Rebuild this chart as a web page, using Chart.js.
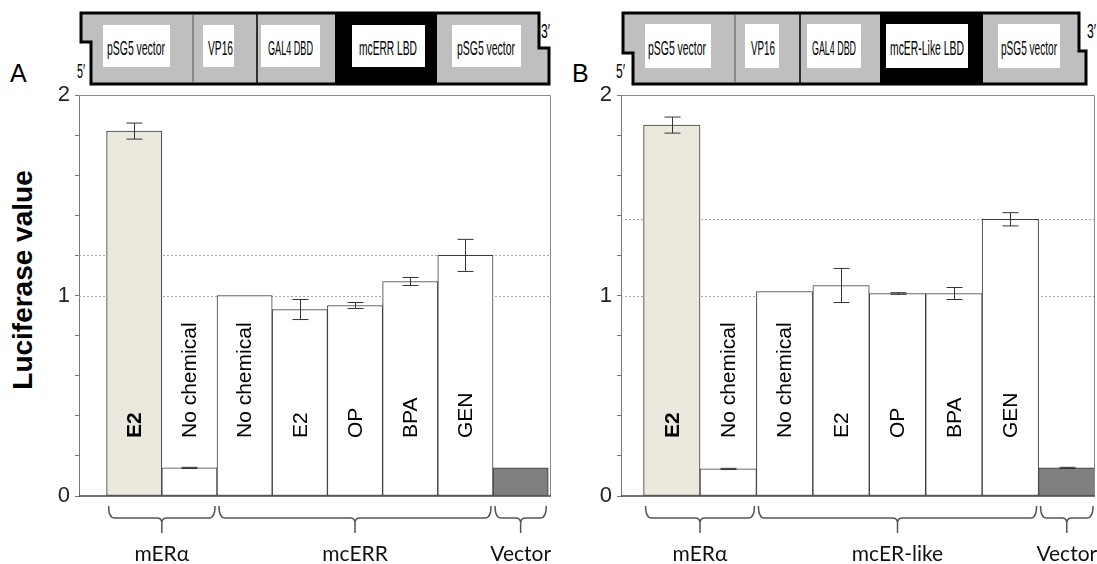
<!DOCTYPE html>
<html><head><meta charset="utf-8">
<script src="https://cdn.jsdelivr.net/npm/chart.js@4.4.1/dist/chart.umd.min.js"></script>
<style>
html,body{margin:0;padding:0;background:#fff;width:1097px;height:564px;overflow:hidden;}
#wrap{position:relative;width:1097px;height:564px;}
canvas{position:absolute;top:0;}
#cA{left:0}
#cB{left:560px}
svg{position:absolute;left:0;top:0;}
.ytitle{position:absolute;font:bold 28px "Liberation Sans",Arial,sans-serif;left:23px;top:280px;transform:translate(-50%,-50%) rotate(-90deg);white-space:nowrap;color:#000;}
</style></head>
<body><div id="wrap">
<svg width="1097" height="100" font-family="Liberation Sans, Arial, sans-serif">
  <text x="10" y="82" font-size="25">A</text>
  <text x="572" y="82" font-size="25">B</text>
  <!-- construct A -->
  <polygon points="81,13 539,13 539,48 549,48 549,84 91,84 91,42 81,42" fill="#bfbfbf" stroke="#000" stroke-width="3"/>
  <rect x="335" y="13" width="102" height="71" fill="#000"/>
  <line x1="193" y1="14" x2="193" y2="83" stroke="#555" stroke-width="1"/>
  <line x1="257" y1="14" x2="257" y2="83" stroke="#000" stroke-width="1.5"/>
  <rect x="103" y="25" width="67" height="42" fill="#fff"/>
  <rect x="203" y="25" width="31" height="42" fill="#fff"/>
  <rect x="261" y="25" width="59" height="42" fill="#fff"/>
  <rect x="352" y="25" width="73" height="42" fill="#fff"/>
  <rect x="452" y="25" width="69" height="42" fill="#fff"/>
  <text x="107" y="55" font-size="21" textLength="58" lengthAdjust="spacingAndGlyphs">pSG5 vector</text>
  <text x="208" y="55" font-size="21" textLength="25" lengthAdjust="spacingAndGlyphs">VP16</text>
  <text x="268" y="55" font-size="21" textLength="45" lengthAdjust="spacingAndGlyphs">GAL4 DBD</text>
  <text x="359" y="55" font-size="21" textLength="58" lengthAdjust="spacingAndGlyphs">mcERR LBD</text>
  <text x="457" y="55" font-size="21" textLength="58" lengthAdjust="spacingAndGlyphs">pSG5 vector</text>
  <text x="77" y="78" font-size="20" textLength="8" lengthAdjust="spacingAndGlyphs">5′</text>
  <text x="541" y="38" font-size="20" textLength="9" lengthAdjust="spacingAndGlyphs">3′</text>
  <!-- construct B -->
  <polygon points="623,13 1079,13 1079,51 1086,51 1086,84 633,84 633,53 623,53" fill="#bfbfbf" stroke="#000" stroke-width="3"/>
  <rect x="880" y="13" width="103" height="71" fill="#000"/>
  <line x1="735" y1="14" x2="735" y2="83" stroke="#555" stroke-width="1"/>
  <line x1="800" y1="14" x2="800" y2="83" stroke="#000" stroke-width="1.5"/>
  <rect x="645" y="24" width="66" height="44" fill="#fff"/>
  <rect x="745" y="24" width="34" height="44" fill="#fff"/>
  <rect x="807" y="24" width="54" height="44" fill="#fff"/>
  <rect x="886" y="24" width="82" height="44" fill="#fff"/>
  <rect x="998" y="24" width="62" height="44" fill="#fff"/>
  <text x="648" y="55" font-size="21" textLength="58" lengthAdjust="spacingAndGlyphs">pSG5 vector</text>
  <text x="751" y="55" font-size="21" textLength="24" lengthAdjust="spacingAndGlyphs">VP16</text>
  <text x="812" y="55" font-size="21" textLength="44" lengthAdjust="spacingAndGlyphs">GAL4 DBD</text>
  <text x="890" y="55" font-size="21" textLength="74" lengthAdjust="spacingAndGlyphs">mcER-Like LBD</text>
  <text x="1001" y="55" font-size="21" textLength="56" lengthAdjust="spacingAndGlyphs">pSG5 vector</text>
  <text x="616" y="78" font-size="20" textLength="9" lengthAdjust="spacingAndGlyphs">5′</text>
  <text x="1087" y="38" font-size="20" textLength="9" lengthAdjust="spacingAndGlyphs">3′</text>
</svg>
<div class="ytitle">Luciferase value</div>
<canvas id="cA" width="560" height="564"></canvas>
<canvas id="cB" width="537" height="564"></canvas>
</div>
<script>
// ---- data ----
const barLabels = ['E2','No chemical','No chemical','E2','OP','BPA','GEN',''];
const boldLabel = [true,false,false,false,false,false,false,false];
const valuesA = [1.82, 0.14, 1.00, 0.93, 0.95, 1.07, 1.20, 0.14];
const errorsA = [0.04, 0.003, 0, 0.05, 0.015, 0.02, 0.08, 0];
const valuesB = [1.85, 0.135, 1.02, 1.05, 1.01, 1.01, 1.38, 0.14];
const errorsB = [0.04, 0.003, 0, 0.085, 0.004, 0.03, 0.033, 0.003];
const refLinesA = [1.0, 1.2];
const refLinesB = [1.0, 1.38];
const groupNamesA = ['mERα','mcERR','Vector'];
const groupNamesB = ['mERα','mcER-like','Vector'];
const groupSpans = [[1,2],[3,7],[8,8]];
const yTicks = [0, 1, 2];
const barColors = ['#ebe9de','#ffffff','#ffffff','#ffffff','#ffffff','#ffffff','#ffffff','#808080'];

const decor = {
  id:'decor',
  beforeDatasetsDraw(chart, args, o){
    const {ctx, chartArea:a, scales:{y}} = chart;
    ctx.save();
    ctx.strokeStyle='#a8a8a8'; ctx.lineWidth=1; ctx.setLineDash([2,2]);
    o.refs.forEach(v=>{
      const py=Math.round(y.getPixelForValue(v))+0.5;
      ctx.beginPath(); ctx.moveTo(a.left,py); ctx.lineTo(a.right,py); ctx.stroke();
    });
    ctx.restore();
  },
  afterDatasetsDraw(chart, args, o){
    const {ctx, chartArea:a, scales:{x,y}} = chart;
    const meta = chart.getDatasetMeta(0);
    ctx.save();
    // frame
    ctx.strokeStyle='#8a8a8a'; ctx.lineWidth=1;
    ctx.beginPath();
    ctx.moveTo(a.left, a.top+0.5); ctx.lineTo(a.right-0.5, a.top+0.5); ctx.lineTo(a.right-0.5, a.bottom);
    ctx.stroke();
    ctx.strokeStyle='#444'; ctx.lineWidth=1.5;
    ctx.beginPath(); ctx.moveTo(a.left, a.bottom); ctx.lineTo(a.right, a.bottom); ctx.stroke();
    // error bars
    ctx.strokeStyle='#333'; ctx.lineWidth=1;
    o.values.forEach((v,i)=>{
      const e=o.errors[i]; if(!e) return;
      const px=Math.round(meta.data[i].x)+0.5;
      const t=y.getPixelForValue(v+e), b=y.getPixelForValue(v-e);
      ctx.beginPath();
      ctx.moveTo(px,t); ctx.lineTo(px,b);
      ctx.moveTo(px-8,t); ctx.lineTo(px+8,t);
      ctx.moveTo(px-8,b); ctx.lineTo(px+8,b);
      ctx.stroke();
    });
    // bar labels
    ctx.fillStyle='#000';
    ctx.textAlign='left'; ctx.textBaseline='middle';
    barLabels.forEach((lab,i)=>{
      if(!lab) return;
      ctx.save();
      ctx.translate(meta.data[i].x+1, a.bottom-58);
      ctx.rotate(-Math.PI/2);
      ctx.font=(boldLabel[i]?'bold ':'')+'21px "Liberation Sans", Arial, sans-serif';
      ctx.fillText(lab,0,0);
      ctx.restore();
    });
    // braces and group labels
    ctx.strokeStyle='#555'; ctx.lineWidth=1.5;
    const ya=a.bottom+10, ym=a.bottom+22, yt=a.bottom+37;
    ctx.font='21px Lato, "Open Sans", sans-serif';
    ctx.textAlign='center'; ctx.textBaseline='alphabetic'; ctx.fillStyle='#111';
    groupSpans.forEach((s,gi)=>{
      const x1=x.getPixelForValue(s[0]-0.5)+2, x2=x.getPixelForValue(s[1]+0.5)-2, xc=(x1+x2)/2;
      ctx.beginPath();
      ctx.moveTo(x1,ya); ctx.quadraticCurveTo(x1,ym,x1+6,ym); ctx.lineTo(xc-5,ym); ctx.quadraticCurveTo(xc,ym,xc,ym+5); ctx.lineTo(xc,yt);
      ctx.moveTo(x2,ya); ctx.quadraticCurveTo(x2,ym,x2-6,ym); ctx.lineTo(xc+5,ym); ctx.quadraticCurveTo(xc,ym,xc,ym+5);
      ctx.stroke();
      ctx.fillText(o.groups[gi], xc, 561);
    });
    ctx.restore();
  }
};

function makeChart(id, values, errors, refs, groups, xMin, xMax, yWidth, padRight){
  return new Chart(document.getElementById(id), {
    type:'bar',
    data:{datasets:[{
      data: values.map((v,i)=>({x:i+1, y:v})),
      backgroundColor: barColors, borderColor:'#3a3a3a', borderWidth:1, borderSkipped:false,
      barPercentage:1, categoryPercentage:1
    }]},
    options:{
      responsive:false, animation:false, events:[],
      layout:{padding:{top:95, bottom:68, right:padRight, left:0}},
      plugins:{legend:{display:false}, tooltip:{enabled:false},
        decor:{values, errors, refs, groups}},
      scales:{
        x:{type:'linear', min:xMin, max:xMax, display:false, offset:false, grid:{offset:false},
           afterBuildTicks(s){ s.ticks = values.map((v,i)=>({value:i+1})); }},
        y:{min:0, max:2,
          afterFit(s){ s.width = yWidth; },
          ticks:{stepSize:0.2, autoSkip:false,
            callback:v=>{ const r=Math.round(v); return (Math.abs(v-r)<1e-6 && yTicks.includes(r)) ? String(r) : ''; },
            font:{family:'"Liberation Sans", Arial, sans-serif', size:22}, color:'#222', padding:5},
          grid:{drawOnChartArea:false, tickLength:4, tickColor:'#777'},
          border:{color:'#777'}
        }
      }
    },
    plugins:[decor]
  });
}
makeChart('cA', valuesA, errorsA, refLinesA, groupNamesA, 0, 8.55, 79, 9);
makeChart('cB', valuesB, errorsB, refLinesB, groupNamesB, 0.1, 8.5, 61, 2);
</script>
</body></html>
